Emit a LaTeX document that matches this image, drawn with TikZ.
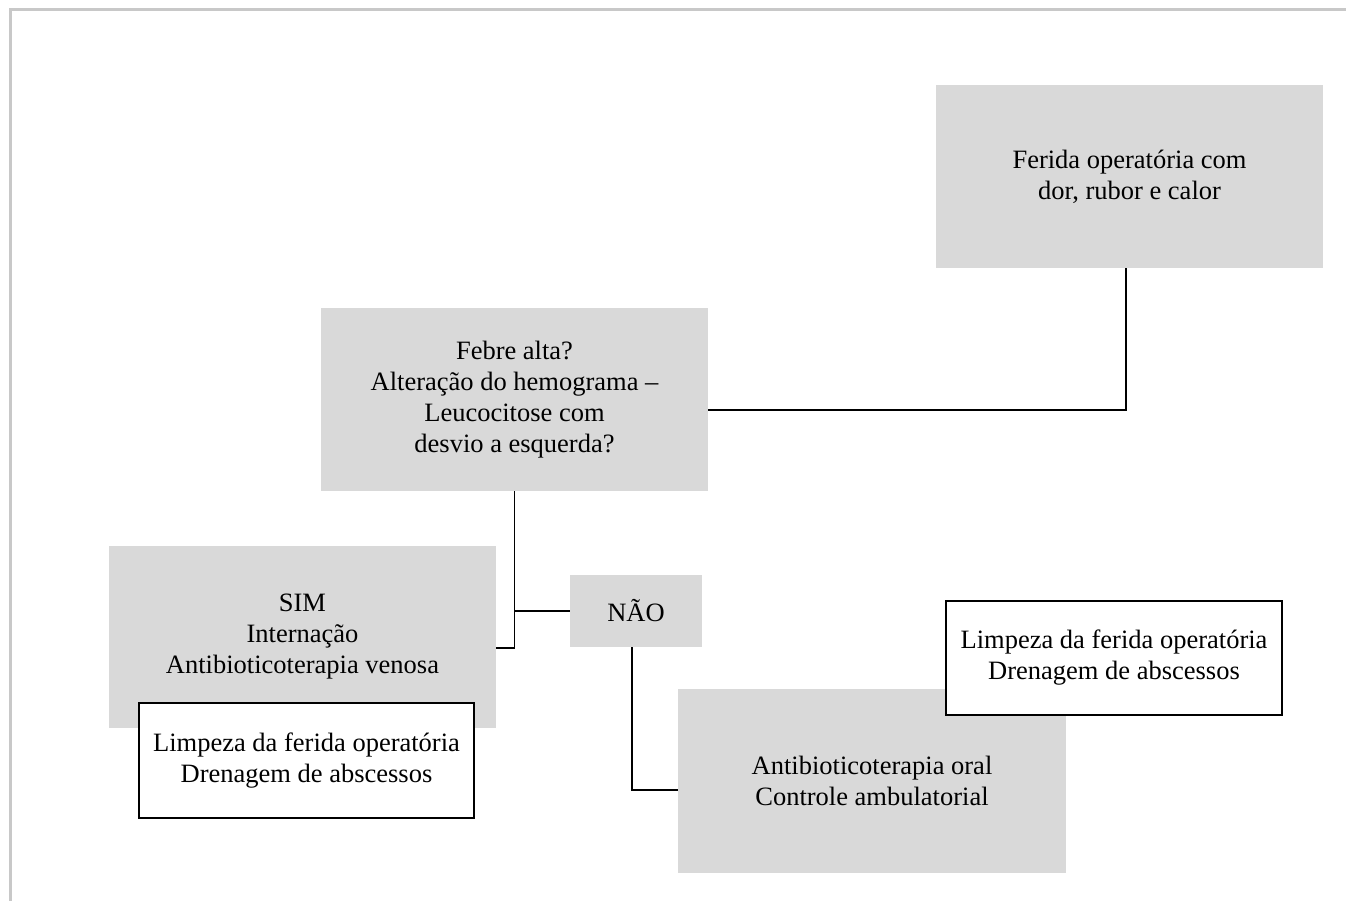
\documentclass[tikz,border=0pt]{standalone}
\usepackage{fontspec}
\setmainfont{Liberation Serif}
\usetikzlibrary{positioning}
\definecolor{boxgrey}{HTML}{D9D9D9}
\definecolor{framegrey}{HTML}{C8C8C8}

\begin{document}
\begin{tikzpicture}[x=1pt ,y=1pt ,on grid ,
greybox/.style ={ fill=boxgrey ,inner sep=0pt ,align=center ,
minimum width =387pt ,minimum height =183pt ,font=\fontsize{26.5}{31}\selectfont},
whitebox/.style ={ draw=black ,fill=white ,line width=1.3pt ,inner sep=0pt ,align=center ,
minimum width =335pt ,minimum height =115pt ,font=\fontsize{26.5}{31}\selectfont},
link/.style ={ draw=black ,line width=1.3pt}]
\useasboundingbox (0,0) rectangle (1346,-901);
\draw[framegrey ,line width=3pt] (10,-901) -- (10,-10) -- (1346,-10);

\node[greybox] (Ferida) at (1129.5,-176.5) {Ferida operatória com\\dor, rubor e calor};
\node[greybox] (Febre) [below left=223pt and 615pt of Ferida] {Febre alta?\\Alteração do hemograma –\\Leucocitose com\\desvio a esquerda?};
\node[greybox ,minimum height=182pt] (Sim) [below left=237.5pt and 212pt of Febre] {SIM\\Internação\\Antibioticoterapia venosa};
\node[whitebox] (LimpezaSim) [below right=123.5pt and 4pt of Sim] {Limpeza da ferida operatória\\Drenagem de abscessos};
\node[greybox ,minimum width=132pt ,minimum height=72pt] (Nao) [below right=211.5pt and 121.5pt of Febre] {NÃO};
\node[greybox ,minimum width=388pt ,minimum height=184pt] (Oral) [below right=170pt and 236pt of Nao] {Antibioticoterapia oral\\Controle ambulatorial};
\node[whitebox ,minimum width=336pt ,minimum height=114pt] (LimpezaNao) [above right=123pt and 242pt of Oral] {Limpeza da ferida operatória\\Drenagem de abscessos};

\path[link] ([yshift=-10.5pt]Febre.east) -| ([xshift=-3.5pt]Ferida.south);
\path[link] (Febre.south) |- ([yshift=-11pt]Sim.east);
\path[link] (Nao.west) -| (Febre.south);
\path[link] ([xshift=-4pt]Nao.south) |- ([yshift=-9pt]Oral.west);
\end{tikzpicture}
\end{document}
